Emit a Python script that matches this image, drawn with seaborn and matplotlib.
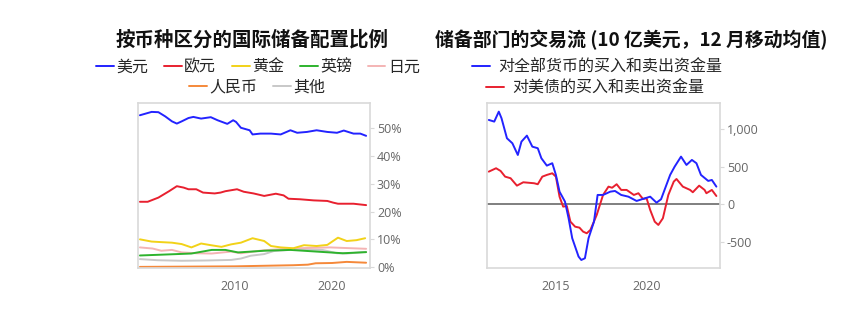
import numpy as np
import pandas as pd
import matplotlib
matplotlib.use("Agg")
import matplotlib.pyplot as plt
import seaborn as sns
from matplotlib.lines import Line2D
from matplotlib.ticker import FuncFormatter, FixedLocator

sns.set_theme(style="white")
plt.rcParams['font.family'] = ['Noto Sans CJK SC', 'DejaVu Sans']
plt.rcParams['axes.unicode_minus'] = False

# ---------------- Left chart data (share of reserves, %) ----------------
usd_x = [2000.2, 2001.4, 2002.1, 2002.8, 2003.5, 2004.0, 2004.5, 2005.2, 2005.7, 2006.5,
         2007.5, 2008.2, 2009.2, 2009.8, 2010.1, 2010.6, 2011.5, 2011.8, 2012.6, 2013.7,
         2014.7, 2015.7, 2016.4, 2017.4, 2018.4, 2019.5, 2020.5, 2021.2, 2022.2, 2022.9, 2023.5]
usd_y = [54.6, 55.8, 55.7, 54.2, 52.4, 51.6, 52.4, 53.6, 54.0, 53.4,
         53.9, 52.8, 51.5, 52.8, 52.2, 50.1, 49.2, 47.7, 48.0, 48.0,
         47.7, 49.2, 48.3, 48.6, 49.2, 48.6, 48.3, 49.1, 48.0, 48.0, 47.2]

eur_x = [2000.2, 2001.0, 2002.1, 2003.2, 2004.0, 2004.7, 2005.2, 2006.0, 2006.7, 2007.9,
         2008.5, 2009.0, 2010.2, 2010.9, 2011.9, 2013.0, 2014.2, 2015.0, 2015.5, 2016.7,
         2018.1, 2019.5, 2020.1, 2020.6, 2022.2, 2023.5]
eur_y = [23.5, 23.5, 25.0, 27.3, 29.1, 28.6, 28.0, 28.0, 26.8, 26.5,
         26.8, 27.3, 28.0, 27.1, 26.5, 25.6, 26.4, 25.8, 24.6, 24.4,
         24.0, 23.8, 23.2, 22.8, 22.8, 22.3]

gold_x = [2000.2, 2001.4, 2002.4, 2003.5, 2004.5, 2005.5, 2006.5, 2007.5, 2008.6, 2009.6,
          2010.6, 2011.8, 2013.0, 2013.7, 2014.7, 2016.0, 2017.1, 2018.4, 2019.5, 2020.6,
          2021.5, 2022.5, 2023.4]
gold_y = [10.0, 9.2, 9.0, 8.8, 8.3, 7.1, 8.5, 7.9, 7.3, 8.2,
          8.8, 10.4, 9.4, 7.6, 7.1, 6.8, 7.9, 7.6, 8.0, 10.6,
          9.4, 9.7, 10.4]

gbp_x = [2000.2, 2002.5, 2004.0, 2005.5, 2007.6, 2009.0, 2010.3, 2013.0, 2015.7, 2018.4,
         2021.1, 2023.5]
gbp_y = [4.2, 4.5, 4.7, 4.9, 6.2, 6.2, 5.3, 5.9, 6.2, 5.6, 5.0, 5.4]

jpy_x = [2000.2, 2001.5, 2002.4, 2003.5, 2004.5, 2006.0, 2007.6, 2009.6, 2010.6, 2013.0,
         2016.4, 2019.8, 2023.5]
jpy_y = [7.1, 6.7, 5.9, 6.2, 5.3, 5.0, 4.9, 5.6, 5.0, 6.1, 6.8, 7.1, 6.6]

rmb_x = [2000.2, 2010.0, 2016.0, 2017.5, 2018.3, 2020.0, 2021.5, 2023.5]
rmb_y = [0.1, 0.3, 0.7, 0.9, 1.4, 1.5, 1.9, 1.6]

oth_x = [2000.2, 2002.0, 2004.5, 2007.0, 2009.6, 2010.6, 2011.6, 2013.0, 2014.0, 2016.0,
         2019.0, 2020.5, 2021.5, 2023.5]
oth_y = [2.9, 2.5, 2.3, 2.4, 2.6, 3.1, 4.1, 4.7, 5.8, 6.3, 6.2, 5.0, 4.9, 5.5]

left_names = ['美元', '欧元', '黄金', '英镑', '日元', '人民币', '其他']
left_colors = ['#2323ff', '#e8202f', '#f2d218', '#2db32d', '#f4b4b4', '#f5893a', '#c8c8c8']
left_series = [(usd_x, usd_y), (eur_x, eur_y), (gold_x, gold_y), (gbp_x, gbp_y),
               (jpy_x, jpy_y), (rmb_x, rmb_y), (oth_x, oth_y)]

# ---------------- Right chart data (USD bn, 12m moving avg) ----------------
all_x = [2011.3, 2011.6, 2011.85, 2012.0, 2012.3, 2012.6, 2012.9, 2013.1, 2013.4, 2013.7,
         2014.0, 2014.2, 2014.5, 2014.8, 2015.0, 2015.2, 2015.5, 2015.7, 2015.9, 2016.06,
         2016.25, 2016.4, 2016.6, 2016.8, 2017.1, 2017.3, 2017.6, 2018.0, 2018.26, 2018.6,
         2019.0, 2019.45, 2019.8, 2020.2, 2020.55, 2020.8, 2021.3, 2021.55, 2021.9, 2022.2,
         2022.5, 2022.75, 2023.0, 2023.4, 2023.6, 2023.85]
all_y = [1124, 1102, 1235, 1147, 880, 813, 657, 835, 915, 768,
         747, 613, 515, 547, 391, 168, 35, -187, -453, -565,
         -698, -743, -720, -453, -232, 124, 124, 168, 177, 124,
         101, 44, 71, 101, 21, 67, 391, 502, 635, 524,
         591, 547, 391, 311, 324, 235]

ust_x = [2011.3, 2011.7, 2011.95, 2012.2, 2012.5, 2012.85, 2013.2, 2013.8, 2014.0, 2014.25,
         2014.5, 2014.8, 2015.0, 2015.2, 2015.4, 2015.6, 2015.8, 2016.06, 2016.3, 2016.5,
         2016.7, 2016.9, 2017.25, 2017.6, 2017.9, 2018.1, 2018.35, 2018.6, 2018.9, 2019.3,
         2019.55, 2019.8, 2020.0, 2020.2, 2020.45, 2020.65, 2020.9, 2021.2, 2021.5, 2021.65,
         2022.0, 2022.4, 2022.55, 2022.9, 2023.2, 2023.3, 2023.6, 2023.85]
ust_y = [435, 480, 444, 368, 347, 248, 293, 280, 267, 368,
         391, 413, 368, 101, -32, -23, -232, -299, -312, -365,
         -387, -343, -143, 124, 235, 220, 267, 191, 191, 124,
         147, 71, 80, -76, -232, -276, -187, 124, 302, 337,
         235, 191, 160, 248, 191, 147, 191, 110]

right_names = ['对全部货币的买入和卖出资金量', '对美债的买入和卖出资金量']
right_colors = ['#2323ff', '#e8202f']

# ---------------- Build long tables ----------------
left_df = pd.concat([pd.DataFrame({'year': x, 'value': y, 'series': n})
                     for n, (x, y) in zip(left_names, left_series)], ignore_index=True)
right_df = pd.concat([pd.DataFrame({'year': all_x, 'value': all_y, 'series': right_names[0]}),
                      pd.DataFrame({'year': ust_x, 'value': ust_y, 'series': right_names[1]})],
                     ignore_index=True)

W, H = 855, 332
fig = plt.figure(figsize=(W / 100, H / 100), dpi=100)
axL = fig.add_axes([138 / W, (H - 268) / H, (370 - 138) / W, (268 - 103) / H])
axR = fig.add_axes([487 / W, (H - 268) / H, (720 - 487) / W, (268 - 103) / H])

# draw order: background lines first, main on top
order = ['其他', '日元', '人民币', '英镑', '黄金', '欧元', '美元']
pal_left = dict(zip(left_names, left_colors))
for n in order:
    sub = left_df[left_df.series == n]
    sns.lineplot(data=sub, x='year', y='value', color=pal_left[n], ax=axL,
                 estimator=None, linewidth=1.4, legend=False)

axR.axhline(0, color='#7f7f7f', linewidth=1.4, zorder=1)
sns.lineplot(data=right_df, x='year', y='value', hue='series', hue_order=right_names[::-1],
             palette=dict(zip(right_names, right_colors)), ax=axR,
             estimator=None, linewidth=1.4, legend=False)

tick_color = '#666666'
for ax in (axL, axR):
    for s in ax.spines.values():
        s.set_color('#d9d9d9')
        s.set_linewidth(1.2)
        s.set_visible(True)
    ax.set_xlabel('')
    ax.set_ylabel('')
    ax.yaxis.tick_right()
    ax.tick_params(axis='y', which='both', right=True, left=False, length=3, width=0.8,
                   color='#d9d9d9', labelcolor=tick_color, labelsize=9, pad=2)
    ax.tick_params(axis='x', bottom=False, labelcolor=tick_color, labelsize=9, pad=3)
    ax.grid(False)

axL.set_xlim(2000.0, 2023.9)
axL.set_ylim(-0.3, 59)
axL.xaxis.set_major_locator(FixedLocator([2010, 2020]))
axL.yaxis.set_major_locator(FixedLocator([0, 10, 20, 30, 40, 50]))
axL.yaxis.set_major_formatter(FuncFormatter(lambda v, p: f"{v:.0f}%"))

axR.set_xlim(2011.2, 2024.05)
axR.set_ylim(-850, 1350)
axR.xaxis.set_major_locator(FixedLocator([2015, 2020]))
axR.yaxis.set_major_locator(FixedLocator([-500, 0, 500, 1000]))
axR.yaxis.set_major_formatter(FuncFormatter(lambda v, p: f"{v:,.0f}"))

for ax in (axL, axR):
    for lab in ax.get_xticklabels() + ax.get_yticklabels():
        lab.set_fontfamily(['Open Sans', 'DejaVu Sans'])
    ax.set_xticklabels([f"{int(t)}" for t in ax.get_xticks()])

# titles
fig.text(252 / W, 1 - 40 / H, '按币种区分的国际储备配置比例', ha='center', va='center',
         fontsize=14, fontweight='bold', color='#111111')
fig.text(631 / W, 1 - 40 / H, '储备部门的交易流 (10 亿美元，12 月移动均值)', ha='center',
         va='center', fontsize=13.6, fontweight='bold', color='#111111')

# legends
def handles(names, colors):
    return [Line2D([], [], color=c, linewidth=1.4) for c in colors], names

h, l = handles(left_names[:5], left_colors[:5])
fig.legend(h, l, loc='center', bbox_to_anchor=(258 / W, 1 - 67 / H), ncol=5, frameon=False,
           fontsize=11.5, handlelength=1.1, handletextpad=0.15, columnspacing=1.0,
           borderpad=0, borderaxespad=0)
h, l = handles(left_names[5:], left_colors[5:])
fig.legend(h, l, loc='center', bbox_to_anchor=(257 / W, 1 - 87 / H), ncol=2, frameon=False,
           fontsize=11.5, handlelength=1.1, handletextpad=0.15, columnspacing=1.0,
           borderpad=0, borderaxespad=0)
h, l = handles(right_names[:1], right_colors[:1])
fig.legend(h, l, loc='center', bbox_to_anchor=(597 / W, 1 - 67 / H), frameon=False,
           fontsize=11.5, handlelength=1.1, handletextpad=0.5, borderpad=0, borderaxespad=0)
h, l = handles(right_names[1:], right_colors[1:])
fig.legend(h, l, loc='center', bbox_to_anchor=(595 / W, 1 - 88 / H), frameon=False,
           fontsize=11.5, handlelength=1.1, handletextpad=0.5, borderpad=0, borderaxespad=0)

fig.savefig('out.png', dpi=100, facecolor='white')
